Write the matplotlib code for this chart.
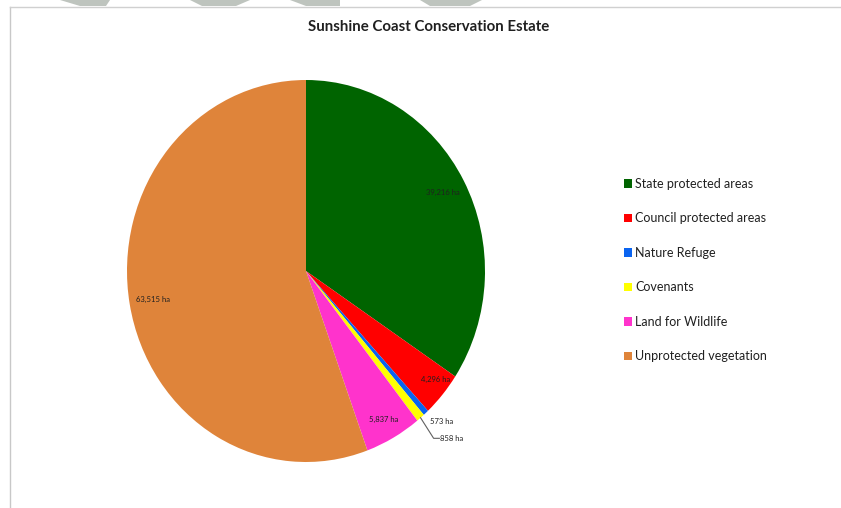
import numpy as np
import matplotlib
matplotlib.use('Agg')
import matplotlib.pyplot as plt
from matplotlib.lines import Line2D
from matplotlib.patches import Patch, Polygon

categories = ['State protected areas', 'Council protected areas', 'Nature Refuge',
              'Covenants', 'Land for Wildlife', 'Unprotected vegetation']
hectares = [39216, 4296, 573, 858, 5837, 63515]
value_labels = ['39,216 ha', '4,296 ha', '573 ha', '858 ha', '5,837 ha', '63,515 ha']
colors = ['#006400', '#FF0000', '#0A64F0', '#FFFF00', '#FF33CC', '#DF843A']

plt.rcParams['font.family'] = ['Lato', 'DejaVu Sans']

W, H = 841, 508
fig = plt.figure(figsize=(W / 100, H / 100), dpi=100)


def fx(px):
    return px / W


def fy(py):
    return 1 - py / H


# grey watermark stripes cut off at the top of the screenshot
for (a, b, c, d) in [(60, 110, 80, 106), (190, 250, 202, 236), (290, 340, 306, 340), (420, 482, 430, 470)]:
    fig.add_artist(Polygon([(fx(a), fy(0)), (fx(b), fy(0)), (fx(d), fy(6)), (fx(c), fy(6))],
                           closed=True, facecolor='#BEC4BE', edgecolor='none'))

# chart frame edges (left and top)
fig.add_artist(Line2D([fx(10), fx(10)], [0, fy(7)], color='#C8C8C8', lw=1))
fig.add_artist(Line2D([fx(10), 1], [fy(7), fy(7)], color='#D0D0D0', lw=1))

# the screenshot squeezes the pie slightly horizontally
ax = fig.add_axes([fx(127), fy(462), 358 / W, 382 / H])
wedges, _ = ax.pie(hectares, colors=colors, startangle=90, counterclock=False,
                   radius=1, wedgeprops=dict(linewidth=0))
ax.set_xlim(-1, 1)
ax.set_ylim(-1, 1)
ax.set_aspect('auto')
ax.axis('off')

# inside labels for the larger slices
label_r = {0: 0.87, 1: 0.92, 4: 0.89, 5: 0.87}
for i, r in label_r.items():
    w = wedges[i]
    ang = np.deg2rad((w.theta1 + w.theta2) / 2 + (2 if i == 1 else 0))
    ax.text(r * np.cos(ang), r * np.sin(ang), value_labels[i], ha='center', va='center',
            fontsize=5.5, color='#202020')

# small slices: outside labels
ax.text(0.693, -0.79, value_labels[2], ha='left', va='center', fontsize=5.5, color='#202020')
w = wedges[3]
ang = np.deg2rad((w.theta1 + w.theta2) / 2)
x0, y0 = np.cos(ang), np.sin(ang)
ax.plot([x0, 0.713, 0.745], [y0, -0.876, -0.876], color='#606060', lw=0.8, clip_on=False)
ax.text(0.749, -0.876, value_labels[3], ha='left', va='center', fontsize=5.5, color='#202020')

handles = [Patch(facecolor=c, edgecolor='none', label=l) for l, c in zip(categories, colors)]
fig.legend(handles=handles, loc='upper left', bbox_to_anchor=(0.734, 0.662), frameon=False,
           fontsize=9, handlelength=0.7, handleheight=0.7, handletextpad=0.25,
           labelspacing=1.8, borderpad=0, labelcolor='#202020')

fig.text(fx(429), fy(27), 'Sunshine Coast Conservation Estate', ha='center', va='center',
         fontsize=10.8, fontweight='bold', color='#202020')

fig.savefig('out.png', dpi=100, facecolor='white')
